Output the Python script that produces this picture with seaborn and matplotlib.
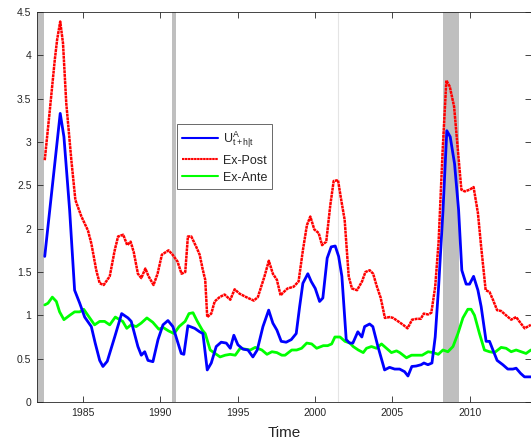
import numpy as np
import pandas as pd
import matplotlib
matplotlib.use("Agg")
import matplotlib.pyplot as plt
import seaborn as sns

# ---------------- data ----------------
u_years = [1982.53, 1983.53, 1983.77, 1984.14, 1984.46, 1984.79, 1985.11, 1985.54, 1985.79,
           1986.08, 1986.29, 1986.57, 1987.05, 1987.50, 1987.91, 1988.12, 1988.55, 1988.77,
           1988.99, 1989.20, 1989.52, 1989.85, 1990.17, 1990.49, 1990.81, 1991.14, 1991.35,
           1991.52, 1991.78, 1992.22, 1992.54, 1992.75, 1993.03, 1993.29, 1993.61, 1993.93,
           1994.26, 1994.52, 1994.75, 1995.01, 1995.34, 1995.66, 1995.98, 1996.26, 1996.63,
           1997.00, 1997.27, 1997.53, 1997.81, 1998.13, 1998.46, 1998.78, 1999.00, 1999.21,
           1999.53, 1999.75, 2000.01, 2000.29, 2000.50, 2000.78, 2001.04, 2001.30, 2001.52,
           2001.73, 2002.01, 2002.23, 2002.44, 2002.76, 2003.02, 2003.20, 2003.52, 2003.73,
           2004.06, 2004.49, 2004.81, 2005.14, 2005.46, 2005.78, 2006.00, 2006.25, 2006.53,
           2006.85, 2007.03, 2007.29, 2007.55, 2007.76, 2007.98, 2008.26, 2008.51, 2008.73,
           2009.01, 2009.27, 2009.48, 2009.76, 2009.98, 2010.24, 2010.52, 2010.73, 2011.05,
           2011.27, 2011.49, 2011.76, 2012.13, 2012.45, 2012.78, 2012.99, 2013.28, 2013.53,
           2013.94]
u_values = [1.68, 3.33, 3.06, 2.21, 1.29, 1.14, 0.98, 0.87, 0.68,
            0.48, 0.41, 0.47, 0.75, 1.02, 0.97, 0.93, 0.64, 0.54,
            0.58, 0.48, 0.465, 0.72, 0.89, 0.94, 0.87, 0.68, 0.56,
            0.55, 0.88, 0.85, 0.81, 0.79, 0.37, 0.45, 0.64, 0.69,
            0.68, 0.62, 0.77, 0.66, 0.61, 0.60, 0.52, 0.60, 0.87,
            1.06, 0.91, 0.83, 0.70, 0.69, 0.72, 0.79, 1.10, 1.37,
            1.48, 1.39, 1.31, 1.16, 1.20, 1.66, 1.79, 1.80, 1.68,
            1.45, 0.72, 0.68, 0.68, 0.81, 0.75, 0.87, 0.90, 0.87,
            0.64, 0.37, 0.40, 0.38, 0.38, 0.35, 0.30, 0.41, 0.415,
            0.43, 0.45, 0.43, 0.45, 0.75, 1.33, 2.20, 3.13, 3.06,
            2.75, 2.22, 1.52, 1.36, 1.36, 1.45, 1.29, 1.10, 0.70,
            0.70, 0.60, 0.48, 0.43, 0.38, 0.38, 0.39, 0.33, 0.29,
            0.29]

post_years = [1982.53, 1982.86, 1983.18, 1983.33, 1983.53, 1983.71, 1983.92, 1984.25, 1984.51,
              1984.90, 1985.32, 1985.54, 1985.86, 1986.08, 1986.34, 1986.73, 1987.05, 1987.27,
              1987.60, 1987.86, 1988.08, 1988.28, 1988.55, 1988.77, 1989.03, 1989.24, 1989.56,
              1989.82, 1990.10, 1990.53, 1990.79, 1991.11, 1991.37, 1991.61, 1991.78, 1992.00,
              1992.32, 1992.54, 1992.75, 1992.90, 1993.03, 1993.29, 1993.51, 1993.83, 1994.15,
              1994.52, 1994.80, 1995.12, 1995.55, 1996.04, 1996.30, 1996.73, 1997.01, 1997.27,
              1997.53, 1997.77, 1997.92, 1998.22, 1998.61, 1998.93, 1999.21, 1999.47, 1999.69,
              1999.95, 2000.23, 2000.45, 2000.72, 2000.98, 2001.20, 2001.48, 2001.67, 2001.91,
              2002.17, 2002.38, 2002.71, 2003.03, 2003.25, 2003.53, 2003.75, 2003.96, 2004.24,
              2004.51, 2004.83, 2005.04, 2005.37, 2005.69, 2005.97, 2006.27, 2006.59, 2006.83,
              2007.02, 2007.30, 2007.51, 2007.76, 2007.98, 2008.24, 2008.48, 2008.70, 2008.98,
              2009.19, 2009.45, 2009.67, 2009.99, 2010.24, 2010.52, 2010.73, 2011.02, 2011.27,
              2011.49, 2011.76, 2012.02, 2012.34, 2012.67, 2012.99, 2013.28, 2013.54, 2013.94]
post_values = [2.79, 3.37, 3.95, 4.18, 4.39, 4.14, 3.45, 2.79, 2.33,
               2.14, 1.98, 1.83, 1.52, 1.37, 1.35, 1.45, 1.75, 1.91,
               1.93, 1.81, 1.85, 1.73, 1.48, 1.43, 1.54, 1.45, 1.35,
               1.48, 1.70, 1.75, 1.70, 1.62, 1.48, 1.50, 1.91, 1.91,
               1.79, 1.70, 1.52, 1.41, 0.98, 1.02, 1.16, 1.21, 1.24,
               1.18, 1.30, 1.25, 1.21, 1.17, 1.21, 1.45, 1.63, 1.48,
               1.41, 1.23, 1.26, 1.31, 1.33, 1.39, 1.75, 2.04, 2.14,
               1.99, 1.95, 1.81, 1.85, 2.27, 2.55, 2.56, 2.35, 2.10,
               1.45, 1.31, 1.29, 1.39, 1.50, 1.52, 1.48, 1.35, 1.20,
               0.97, 0.98, 0.97, 0.93, 0.89, 0.85, 0.95, 0.96, 0.96,
               1.02, 1.01, 1.03, 1.33, 1.85, 2.90, 3.71, 3.64, 3.41,
               2.98, 2.45, 2.43, 2.45, 2.48, 2.18, 1.79, 1.29, 1.27,
               1.18, 1.06, 1.05, 1.00, 0.95, 0.98, 0.91, 0.85, 0.89]

ante_years = [1982.53, 1982.74, 1983.02, 1983.28, 1983.49, 1983.77, 1984.14, 1984.46, 1984.79,
              1985.05, 1985.32, 1985.75, 1986.08, 1986.40, 1986.73, 1987.09, 1987.37, 1987.57,
              1987.83, 1988.11, 1988.44, 1988.76, 1989.13, 1989.51, 1989.90, 1990.18, 1990.53,
              1990.89, 1991.21, 1991.60, 1991.85, 1992.11, 1992.39, 1992.71, 1992.90, 1993.22,
              1993.54, 1993.86, 1994.19, 1994.51, 1994.84, 1995.16, 1995.48, 1995.81, 1996.13,
              1996.56, 1996.89, 1997.21, 1997.53, 1997.85, 1998.06, 1998.49, 1998.81, 1999.13,
              1999.46, 1999.78, 2000.10, 2000.53, 2000.81, 2001.07, 2001.28, 2001.61, 2001.93,
              2002.25, 2002.46, 2002.79, 2003.11, 2003.32, 2003.64, 2003.97, 2004.29, 2004.61,
              2004.93, 2005.26, 2005.47, 2005.69, 2005.90, 2006.23, 2006.66, 2006.92, 2007.30,
              2007.63, 2007.96, 2008.26, 2008.58, 2008.91, 2009.23, 2009.55, 2009.87, 2010.08,
              2010.30, 2010.62, 2010.94, 2011.27, 2011.59, 2012.02, 2012.34, 2012.67, 2012.99,
              2013.31, 2013.63, 2013.94]
ante_values = [1.12, 1.14, 1.21, 1.16, 1.04, 0.95, 1.00, 1.04, 1.04,
               1.07, 1.00, 0.89, 0.93, 0.93, 0.89, 0.98, 0.95, 0.93,
               0.85, 0.89, 0.87, 0.91, 0.97, 0.92, 0.84, 0.86, 0.82,
               0.79, 0.87, 0.93, 1.02, 1.03, 0.93, 0.83, 0.79, 0.60,
               0.56, 0.52, 0.54, 0.55, 0.54, 0.62, 0.61, 0.60, 0.63,
               0.60, 0.55, 0.58, 0.57, 0.54, 0.54, 0.60, 0.60, 0.62,
               0.68, 0.67, 0.62, 0.65, 0.65, 0.67, 0.75, 0.75, 0.70,
               0.68, 0.64, 0.60, 0.57, 0.62, 0.64, 0.62, 0.67, 0.62,
               0.57, 0.59, 0.57, 0.54, 0.51, 0.54, 0.54, 0.54, 0.58,
               0.57, 0.55, 0.60, 0.58, 0.64, 0.79, 0.97, 1.07, 1.07,
               1.00, 0.79, 0.60, 0.58, 0.57, 0.63, 0.62, 0.58, 0.60,
               0.58, 0.56, 0.60]

recession_starts = [1981.5, 1990.75, 2008.25]
recession_ends = [1982.5, 1991.0, 2009.3]
thin_recession = [2001.5]

x_ticks = [1985, 1990, 1995, 2000, 2005, 2010]
x_tick_labels = ["1985", "1990", "1995", "2000", "2005", "2010"]
y_ticks = [0, 0.5, 1, 1.5, 2, 2.5, 3, 3.5, 4, 4.5]
y_tick_labels = ["0", "0.5", "1", "1.5", "2", "2.5", "3", "3.5", "4", "4.5"]

series_labels = [r"U$^{\mathrm{A}}_{\mathrm{t+h|t}}$", "Ex-Post", "Ex-Ante"]
x_label = "Time"

# ---------------- style ----------------
sns.set_theme(style="white")
plt.rcParams["font.family"] = ["Liberation Sans", "DejaVu Sans"]
plt.rcParams["mathtext.fontset"] = "custom"
plt.rcParams["mathtext.rm"] = "Liberation Sans"
plt.rcParams["mathtext.it"] = "Liberation Sans:italic"
plt.rcParams["mathtext.bf"] = "Liberation Sans:bold"

W, H = 531, 443
fig = plt.figure(figsize=(W / 100, H / 100), dpi=100)
left, right, top, bottom = 37, 531, 12, 402
ax = fig.add_axes([left / W, 1 - bottom / H, (right - left) / W, (bottom - top) / H])
ax.set_facecolor("white")

for s, e in zip(recession_starts, recession_ends):
    ax.axvspan(s, e, color="#bfbfbf", lw=0, zorder=0)
for t in thin_recession:
    ax.axvline(t, color="#e4e4e4", lw=0.8, zorder=0)

df_u = pd.DataFrame({"Time": u_years, "val": u_values})
df_post = pd.DataFrame({"Time": post_years, "val": post_values})
df_ante = pd.DataFrame({"Time": ante_years, "val": ante_values})

sns.lineplot(data=df_u, x="Time", y="val", ax=ax, color="#0000ff", lw=2.0,
             label=series_labels[0], sort=True, zorder=3)
sns.lineplot(data=df_post, x="Time", y="val", ax=ax, color="#ff0000", lw=1.8,
             linestyle=(0, (1.2, 0.25)), label=series_labels[1], sort=True, zorder=4)
sns.lineplot(data=df_ante, x="Time", y="val", ax=ax, color="#00ff00", lw=2.0,
             label=series_labels[2], sort=True, zorder=2)

ax.set_xlim(1982.03, 2013.95)
ax.set_ylim(0, 4.5)
ax.set_xticks(x_ticks)
ax.set_xticklabels(x_tick_labels)
ax.set_yticks(y_ticks)
ax.set_yticklabels(y_tick_labels)
ax.tick_params(direction="in", length=4, width=0.6, colors="#262626",
               labelsize=7.5, top=True, right=True, bottom=True, left=True,
               labelcolor="#262626", pad=4)
for sp in ax.spines.values():
    sp.set_visible(True)
    sp.set_color("#262626")
    sp.set_linewidth(0.6)
ax.set_xlabel(x_label, fontsize=11, color="#262626", labelpad=6)
ax.set_ylabel("")

leg = ax.legend(loc="upper left", bbox_to_anchor=(177 / W, 1 - 124 / H),
                bbox_transform=fig.transFigure, frameon=True, fancybox=False,
                fontsize=9, handlelength=2.9, handletextpad=0.35,
                borderpad=0.4, labelspacing=0.4, borderaxespad=0)
leg.get_frame().set_edgecolor("#262626")
leg.get_frame().set_linewidth(0.6)
for line in leg.get_lines():
    line.set_linewidth(1.5)

fig.savefig("out.png", dpi=100)
